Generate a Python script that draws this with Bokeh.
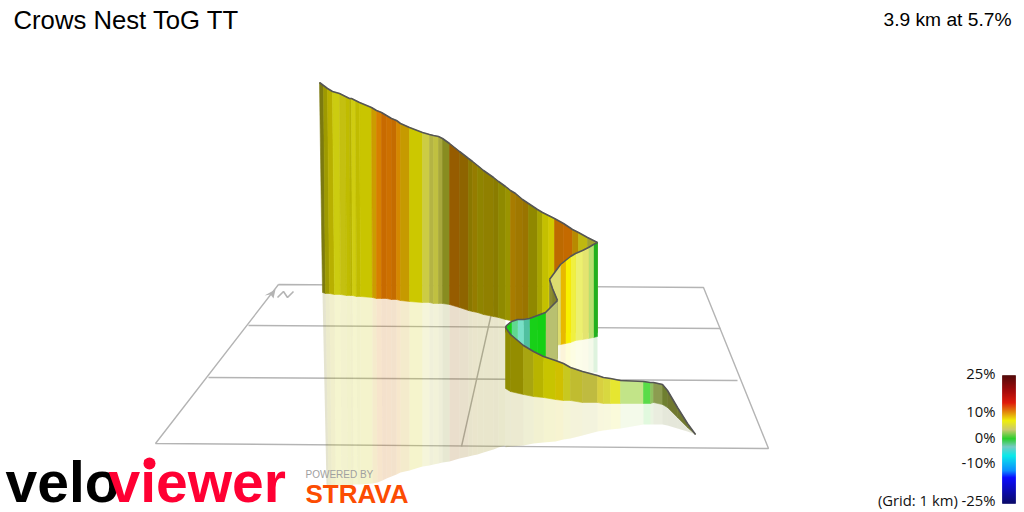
from bokeh.plotting import figure
from bokeh.models import Range1d
from bokeh.core.properties import value
from bokeh.embed import file_html
from bokeh.resources import INLINE

TITLE = "Crows Nest ToG TT"
SUMMARY = "3.9 km at 5.7%"
LEGEND_LABELS = ["25%", "10%", "0%", "-10%", "(Grid: 1 km) -25%"]
LEGEND_Y = [372, 410, 436, 461, 499]

# Back wall: strip edges on screen (top, base, reflection), top edge, base, reflection edge, colours
A_X = [319, 323, 327, 332, 339, 345, 349, 351, 355, 359, 371, 376, 381, 386, 391, 396, 400, 409, 422, 429, 433, 438, 442, 449, 459, 468, 472, 477, 483, 493, 498, 505, 510, 515, 522, 528, 537, 542, 548, 554, 563, 572, 578, 587, 597]
A_XB = [322, 325, 329, 334, 340, 346, 350, 352, 356, 360, 372, 376, 381, 386, 391, 396, 400, 409, 422, 429, 433, 438, 442, 449, 459, 468, 472, 477, 483, 493, 498, 505, 510, 515, 522, 528, 537, 542, 548, 554, 563, 572, 578, 587, 597]
A_XR = [326, 328, 331, 335, 341, 347, 351, 353, 357, 360, 372, 377, 382, 386, 391, 396, 400, 409, 422, 429, 433, 438, 442, 449, 459, 468, 472, 477, 483, 493, 498, 505]
A_TOP = [82, 85, 88, 91, 93, 96, 98, 98, 100, 102, 107, 110, 112, 115, 118, 120, 123, 127, 132, 134, 135, 136, 138, 143, 151, 158, 161, 165, 170, 177, 181, 186, 190, 193, 199, 203, 209, 212, 215, 218, 223, 229, 232, 237, 242]
A_BOT = [292, 293, 293, 294, 294, 295, 295, 295, 296, 296, 297, 298, 298, 298, 299, 299, 300, 301, 302, 302, 303, 303, 303, 304, 307, 310, 311, 312, 314, 316, 317, 319, 320, 322, 324, 326, 329, 330, 331, 332, 332, 332, 332, 332, 332]
A_REF = [484, 485, 485, 485, 485, 485, 485, 484, 484, 484, 483, 482, 480, 478, 476, 474, 472, 470, 466, 465, 464, 463, 462, 461, 458, 456, 455, 454, 452, 449, 447, 445]
A_COL = ["#7c7a10", "#9e9a00", "#b8b000", "#cccc10", "#c4c010", "#c0bc00", "#b8b400", "#cfcc10", "#c0bc00", "#c9c500", "#cc9c00", "#d67f00", "#c86a00", "#cd7000", "#c56c00", "#d58800", "#c69a00", "#ccc800", "#cccc44", "#b4b444", "#c0c040", "#a8a83c", "#888c20", "#965c00", "#8e6400", "#8a7800", "#957c00", "#8f8400", "#908000", "#8a7c00", "#8f8a00", "#9a9400", "#a87c00", "#a07800", "#9a7400", "#908800", "#a8a400", "#c4c000", "#d2ca00", "#bd6a00", "#c46a00", "#b88a00", "#bfb810", "#a0a030"]

# Inner wall, from the far corner back towards the fold
B_X = [597, 593, 588, 582, 575, 570, 565, 560, 549]
B_TOP = [242, 244, 247, 250, 253, 256, 260, 264, 279]
B_BOT = [336, 337, 338, 339, 340, 342, 343, 344, 346]
B_REF = [372, 372, 373, 373, 374, 374, 374, 374, 374]
B_COL = ["#20b020", "#b8e070", "#e4e470", "#ecf070", "#f0f040", "#f8f000", "#e8b800", "#dcdc70"]

# Fold where the road bends back
F_X = [549, 552, 557]
F_TOP = [279, 288, 300]
F_BOT = [312, 320, 358]
F_COL = ["#8c8c30", "#80802a"]

# Mid wall, running left from the fold
C_X = [557, 545, 537, 529, 523, 517, 511, 506, 505]
C_TOP = [300, 312, 315, 318, 319, 319, 321, 325, 327]
C_BOT = [372, 362, 356, 350, 345, 342, 338, 333, 331]
C_COL = ["#b8c070", "#14d014", "#18d018", "#50c0a0", "#78e0c8", "#60d890", "#18d018", "#607020"]

# Front wall, running down to the finish
D_X = [505, 510, 523, 533, 543, 555, 563, 570, 582, 597, 603, 610, 620, 643, 650, 653, 662, 667, 677, 687, 695]
D_TOP = [327, 334, 345, 351, 356, 360, 363, 367, 371, 375, 377, 378, 380, 381, 382, 382, 384, 390, 407, 423, 434]
D_BOT = [388, 391, 394, 396, 397, 399, 400, 400, 402, 402, 403, 403, 403, 403, 403, 402, 404, 407, 417, 427, 434]
D_REF = [447, 446, 445, 443, 442, 441, 439, 438, 435, 431, 430, 429, 428, 424, 424, 424, 424, 425, 428, 431, 434]
D_COL = ["#8f8c00", "#948d00", "#a8a510", "#b8b400", "#c8c400", "#d0c000", "#c8c820", "#c0bc30", "#bfbb40", "#d8d040", "#d8d840", "#e6e630", "#c2e488", "#58dc48", "#90c060", "#8c9c50", "#6f7f30", "#707830", "#707830", "#707830"]

# Ground grid
GRID_X = [[278, 703, 768, 155, 278], [248, 720], [208, 737], [461, 497]]
GRID_Y = [[284, 287, 448, 443, 284], [325, 328], [377, 380], [446, 286]]
NORTH_X = [277, 283, 287, 293]
NORTH_Y = [297, 291, 297, 291]
ARROW_X = [264, 275, 273, 270]
ARROW_Y = [295, 289, 298, 294]

# Gradient legend
BAR_Y = [375, 390, 402, 411, 420, 429, 438, 446, 455, 470, 477, 503]
BAR_COL = [(77, 0, 0), (160, 0, 0), (221, 17, 0), (224, 128, 0), (238, 238, 0), (200, 200, 104), (34, 204, 34), (112, 200, 192), (0, 232, 232), (0, 136, 255), (0, 0, 255), (0, 0, 96)]

p = figure(width=1024, height=512, output_backend="svg", toolbar_location=None,
           x_range=Range1d(0, 1024), y_range=Range1d(512, 0), min_border=0,
           x_axis_type="linear", outline_line_color=None)
p.axis.visible = False
p.grid.visible = False
p.background_fill_color = "#ffffff"


def strips(xs, upper, lower, cols, alpha=1.0, low_xs=None):
    low_xs = low_xs or xs
    n = min(len(cols), len(lower) - 1, len(upper) - 1, len(low_xs) - 1)
    px = [[xs[i], xs[i + 1], low_xs[i + 1], low_xs[i]] for i in range(n)]
    py = [[upper[i], upper[i + 1], lower[i + 1], lower[i]] for i in range(n)]
    # a hairline of the same colour closes the seams between opaque strips
    p.patches(px, py, fill_color=cols[:n], fill_alpha=alpha,
              line_color=cols[:n] if alpha == 1.0 else None, line_width=0.6)


p.multi_line(GRID_X, GRID_Y, line_color="#b4b4b4", line_width=1.4)
p.line(NORTH_X, NORTH_Y, line_color="#b4b4b4", line_width=1.6)
p.patch(ARROW_X, ARROW_Y, fill_color="#b4b4b4", line_color=None)

# reflections
strips(A_XB, A_BOT, A_REF, A_COL, 0.2, A_XR)
strips(B_X, B_BOT, B_REF, B_COL, 0.15)
strips(D_X, D_BOT, D_REF, D_COL, 0.18)

# walls, back to front
strips(A_X, A_TOP, A_BOT, A_COL, 1.0, A_XB)
strips(B_X, B_TOP, B_BOT, B_COL)
strips(F_X, F_TOP, F_BOT, F_COL)
strips(C_X, C_TOP, C_BOT, C_COL)
strips(D_X, D_TOP, D_BOT, D_COL)

for xs, ys in ((A_X, A_TOP), (B_X, B_TOP), (F_X, F_TOP), (C_X, C_TOP), (D_X, D_TOP)):
    p.line(xs, ys, line_color="#555555", line_width=1.6)

# legend bar
rows = list(range(BAR_Y[0], BAR_Y[-1]))
fills = []
for r in rows:
    for k in range(len(BAR_Y) - 1):
        if BAR_Y[k] <= r <= BAR_Y[k + 1]:
            t = (r - BAR_Y[k]) / (BAR_Y[k + 1] - BAR_Y[k])
            c = [round(BAR_COL[k][j] + t * (BAR_COL[k + 1][j] - BAR_COL[k][j])) for j in range(3)]
            fills.append("#%02x%02x%02x" % tuple(c))
            break
p.quad(left=1002, right=1015, top=rows, bottom=[r + 1 for r in rows], fill_color=fills,
       fill_alpha=1.0, line_color=fills, line_alpha=1.0, line_width=0.6)

p.text([13], [19], text=[TITLE], text_font=value("Liberation Sans"), text_font_size="25.7px",
       text_color="#000000", text_align="left", text_baseline="middle")
p.text([1011], [19], text=[SUMMARY], text_font=value("Liberation Sans"), text_font_size="19.2px",
       text_color="#000000", text_align="right", text_baseline="middle")
p.text([995] * len(LEGEND_LABELS), LEGEND_Y, text=LEGEND_LABELS, text_font=value("Open Sans"),
       text_font_size="14.8px", text_color="#111111", text_align="right", text_baseline="middle")

p.text([5], [481], text=["velo"], text_font=value("Liberation Sans"), text_font_style="bold",
       text_font_size="57px", text_color="#000000", text_align="left", text_baseline="middle")
p.text([108], [481], text=["viewer"], text_font=value("Liberation Sans"), text_font_style="bold",
       text_font_size="57px", text_color="#ff0033", text_align="left", text_baseline="middle")
p.scatter([149], [463], size=12, marker="circle", fill_color="#ff0033", line_color=None)
p.text([305], [474], text=["POWERED BY"], text_font=value("Liberation Sans"), text_font_size="10px",
       text_color="#a0a0a0", text_align="left", text_baseline="middle")
p.text([305], [493], text=["STRAVA"], text_font=value("Liberation Sans"), text_font_style="bold",
       text_font_size="26px", text_color="#fc4c02", text_align="left", text_baseline="middle")

open("out.html", "w").write(file_html(p, INLINE))
